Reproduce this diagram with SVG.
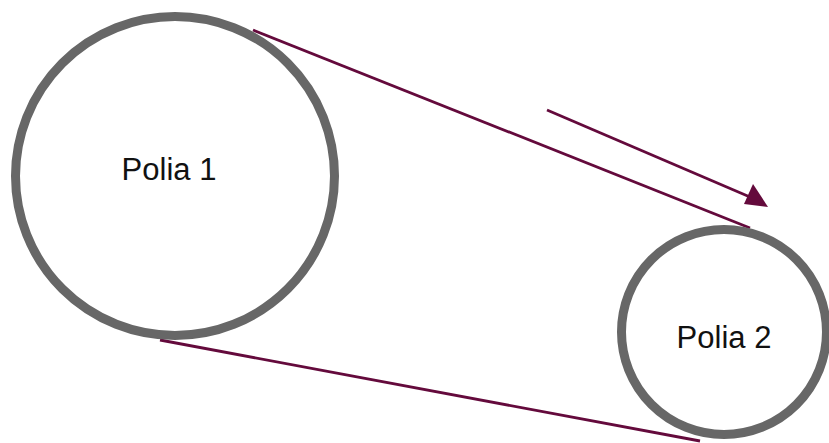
<svg xmlns="http://www.w3.org/2000/svg" width="829" height="443" viewBox="0 0 829 443">
  <style>
    .pulley { fill: #ffffff; stroke: #676767; stroke-width: 9; }
    .belt { stroke: #640a3c; stroke-width: 2.8; fill: none; }
    .label { font-family: "Liberation Sans", Arial, sans-serif; font-size: 31px; fill: #111111; text-anchor: middle; }
  </style>
  <rect width="829" height="443" fill="#ffffff"/>
  <g id="connectors">
    <line class="belt" x1="253" y1="30" x2="750" y2="228"/>
    <line class="belt" x1="160" y1="340" x2="700" y2="441"/>
    <line class="belt" x1="547" y1="110" x2="750" y2="197"/>
    <polygon points="744,204 753,184 768,207" fill="#640a3c"/>
  </g>
  <g id="polia1">
    <circle class="pulley" cx="175" cy="176" r="159.5"/>
    <text class="label" x="169" y="180">Polia 1</text>
  </g>
  <g id="polia2">
    <circle class="pulley" cx="724" cy="332" r="102.5"/>
    <text class="label" x="724" y="348">Polia 2</text>
  </g>
</svg>
